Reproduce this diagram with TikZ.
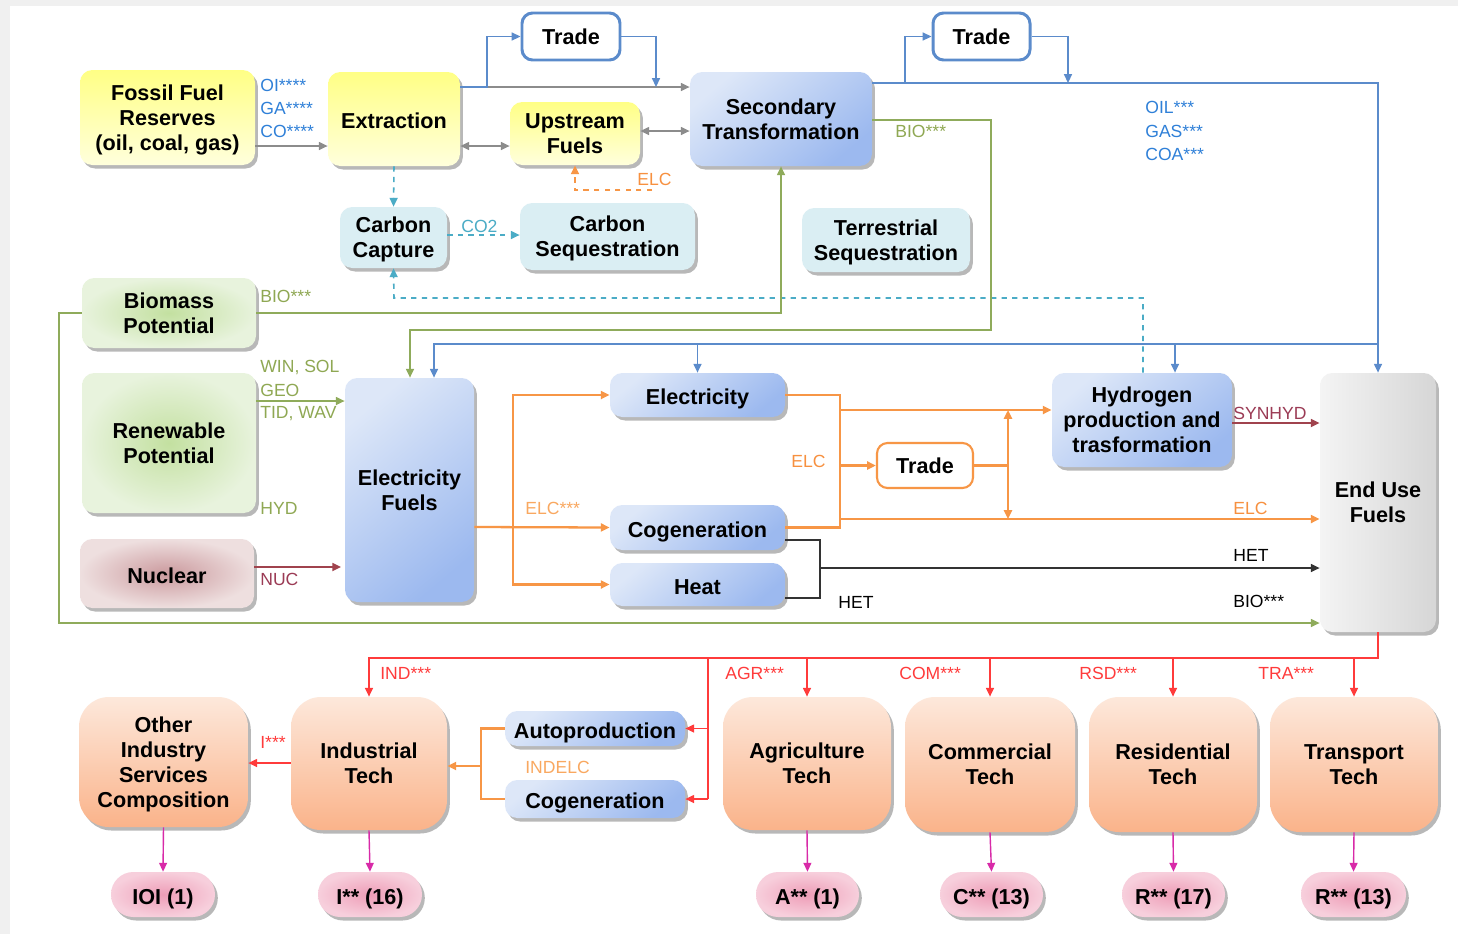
\documentclass[tikz,border=0pt]{standalone}
\usepackage{fontspec}
\setmainfont{Liberation Sans}
\usepackage{tikz}
\usetikzlibrary{arrows.meta}
\usetikzlibrary{shadows}

\definecolor{bgc}{HTML}{F0F0F0}
\definecolor{yel1}{HTML}{FFFF85}
\definecolor{yel2}{HTML}{FFFFDC}
\definecolor{blu1}{HTML}{DDE7F8}
\definecolor{blu2}{HTML}{9CB9EF}
\definecolor{cbox}{HTML}{DAEEF3}
\definecolor{grn1}{HTML}{C3E0A0}
\definecolor{grn2}{HTML}{E8F3DD}
\definecolor{nuc1}{HTML}{CB9A9E}
\definecolor{nuc2}{HTML}{EEDFDF}
\definecolor{gry1}{HTML}{F4F4F4}
\definecolor{gry2}{HTML}{D6D6D6}
\definecolor{pch1}{HTML}{FDE8DB}
\definecolor{pch2}{HTML}{FAB38A}
\definecolor{pnk1}{HTML}{F7CFDC}
\definecolor{pnk2}{HTML}{EE9DB7}
\definecolor{cgray}{HTML}{8C8C8C}
\definecolor{cblue}{HTML}{5B8BCB}
\definecolor{cgreen}{HTML}{8FAB5B}
\definecolor{cnuc}{HTML}{A0434D}
\definecolor{corg}{HTML}{F79646}
\definecolor{ccyan}{HTML}{4BACC6}
\definecolor{cred}{HTML}{FF3B3B}
\definecolor{cmag}{HTML}{D82AA8}
\definecolor{tblue}{HTML}{2F80D8}
\definecolor{tgreen}{HTML}{8FA853}
\definecolor{tnuc}{HTML}{9B3B55}
\definecolor{torg}{HTML}{F7903F}
\definecolor{tlorg}{HTML}{F9A860}

\tikzset{
  wh/.style 2 args={minimum width=#1*0.02cm, minimum height=#2*0.02cm},
  box/.style={rounded corners=7pt, align=center, inner sep=0pt, text depth=0pt,
    execute at begin node={\rule{0pt}{11.2pt}},
    font=\bfseries\fontsize{12.3}{14.2}\selectfont,
    drop shadow={shadow xshift=1.6pt, shadow yshift=-2pt, fill=black, opacity=0.28}},
  yelbox/.style={box, top color=yel1, bottom color=yel2},
  bluebox/.style={box, top color=blu1, bottom color=blu2, shading angle=40},
  cyanbox/.style={box, fill=cbox},
  greenbox/.style={box, inner color=grn1, outer color=grn2},
  nucbox/.style={box, inner color=nuc1, outer color=nuc2},
  greybox/.style={box, left color=gry1, right color=gry2},
  techbox/.style={box, rounded corners=17pt, top color=pch1, bottom color=pch2},
  ovalbox/.style={box, rounded corners=12.7pt, inner color=pnk2, outer color=pnk1},
  tradebox/.style={rounded corners=6pt, align=center, inner sep=0pt, draw=cblue,
    line width=1.7pt, fill=white, font=\bfseries\fontsize{12.3}{14.2}\selectfont},
  tradeorg/.style={tradebox, draw=corg, line width=1.2pt},
  lbl/.style={anchor=west, inner sep=0pt, font=\fontsize{10}{12}\selectfont},
  grayln/.style={draw=cgray, line width=0.9pt},
  blueln/.style={draw=cblue, line width=0.9pt},
  greenln/.style={draw=cgreen, line width=0.9pt},
  nucln/.style={draw=cnuc, line width=1.1pt},
  orgln/.style={draw=corg, line width=1.3pt},
  cyanln/.style={draw=ccyan, line width=0.9pt, dashed},
  blkln/.style={draw=black!80, line width=0.9pt},
  redln/.style={draw=cred, line width=0.9pt},
  magln/.style={draw=cmag, line width=0.8pt},
}

\begin{document}
\begin{tikzpicture}[x=0.02cm,y=-0.02cm,>={Triangle[length=5pt,width=4.5pt]}]
\useasboundingbox (0,0) rectangle (1458,934);
\fill[bgc] (0,0) rectangle (1458,934);
\fill[white] (10,6) rectangle (1458,934);

%%% Draws supply side
% draws boxes
\node[yelbox, wh={175}{95}] (fossil) at (167.5,117.5) {Fossil Fuel\\Reserves\\(oil, coal, gas)};
\node[yelbox, wh={132}{94}] (ext) at (394,119) {Extraction};
\node[yelbox, wh={130}{63}] (up) at (575,133.5) {Upstream\\Fuels};
\node[bluebox, wh={182}{94}] (sec) at (781,119) {Secondary\\Transformation};
\node[tradebox, wh={98}{47}] (trA) at (571,36.5) {Trade};
\node[tradebox, wh={97}{47}] (trB) at (981.5,36.5) {Trade};
\node[cyanbox, wh={107}{61}] (cap) at (393.5,237.5) {Carbon\\Capture};
\node[cyanbox, wh={175}{67}] (seq) at (607.5,236.5) {Carbon\\Sequestration};
\node[cyanbox, wh={168}{64}] (ter) at (886,240) {Terrestrial\\Sequestration};
\node[greenbox, wh={174}{70}] (bio) at (169,313) {Biomass\\Potential};
\node[greenbox, wh={174}{140}] (ren) at (169,443) {Renewable\\Potential};
\node[nucbox, wh={174}{69}] (nuc) at (167,573.5) {Nuclear};
%%% Draws conversion
\node[bluebox, wh={129}{224}] (ef) at (409.5,490) {Electricity\\Fuels};
\node[bluebox, wh={175}{44}] (elec) at (697.5,395) {Electricity};
\node[bluebox, wh={175}{45}] (cogen) at (697.5,527.5) {Cogeneration};
\node[bluebox, wh={175}{43}] (heat) at (697.5,584.5) {Heat};
\node[tradeorg, wh={96}{45}] (trC) at (925,465.5) {Trade};
\node[bluebox, wh={180}{94}] (hyd) at (1142,420) {Hydrogen\\production and\\trasformation};
\node[greybox, wh={116}{259}] (enduse) at (1378,502.5) {End Use\\Fuels};
%%% Draws demand side
\node[techbox, wh={169}{130}] (other) at (163.5,762) {Other\\Industry\\Services\\Composition};
\node[techbox, wh={156}{133}] (ind) at (369,763.5) {Industrial\\Tech};
\node[bluebox, wh={180}{35}] (auto) at (595,728.5) {Autoproduction};
\node[bluebox, wh={180}{38}] (cogen2) at (595,799) {Cogeneration};
\node[techbox, wh={168}{133}] (agr) at (807,763.5) {Agriculture\\Tech};
\node[techbox, wh={170}{135}] (com) at (990,764.5) {Commercial\\Tech};
\node[techbox, wh={168}{135}] (rsd) at (1173,764.5) {Residential\\Tech};
\node[techbox, wh={168}{135}] (tra) at (1354,764.5) {Transport\\Tech};
\node[ovalbox, wh={104}{45}] (o1) at (163,894.5) {IOI (1)};
\node[ovalbox, wh={104}{45}] (o2) at (370,894.5) {I** (16)};
\node[ovalbox, wh={103}{45}] (o3) at (807.5,894.5) {A** (1)};
\node[ovalbox, wh={103}{45}] (o4) at (991.5,894.5) {C** (13)};
\node[ovalbox, wh={103}{45}] (o5) at (1173.5,894.5) {R** (17)};
\node[ovalbox, wh={105}{45}] (o6) at (1353.5,894.5) {R** (13)};

% bend points and levels
\coordinate (bA) at (487,87);
\coordinate (bB) at (656,87);
\coordinate (bC) at (905,83);
\coordinate (bD) at (1068,83);
\coordinate (bE) at (1378,344);
\coordinate (lvA) at (0,146);
\coordinate (lvB) at (0,131);
\coordinate (lvC) at (0,120);
\coordinate (lvD) at (0,235);
\coordinate (lvE) at (0,401);
\coordinate (lvF) at (0,567);
\coordinate (lvG) at (0,423);
\coordinate (lvH) at (0,540);
\coordinate (lvI) at (0,598);
\coordinate (lvJ) at (0,658);
\coordinate (lvK) at (0,763);
\coordinate (xA) at (434,0);
\coordinate (xB) at (410,0);
\coordinate (xC) at (1175,0);
\coordinate (xD) at (1143,0);
\coordinate (gA) at (991,330);
\coordinate (gB) at (59,623);
\coordinate (eA) at (652,190);
\coordinate (cA) at (394,298);
\coordinate (oA) at (513,527);
\coordinate (oB) at (840,410);
\coordinate (oC) at (840,519);
\coordinate (oD) at (1008,410);
\coordinate (oE) at (1008,519);
\coordinate (kA) at (820,568);
\coordinate (rA) at (708,658);
\coordinate (oF) at (481,766);

% draws arrows (top)
\draw[grayln,->] (fossil.east |- lvA) -- (ext.west |- lvA);
\draw[grayln,->] (ext.east |- bA) -- (sec.west |- bA);
\draw[blueln,->] (ext.east |- bA) -- (bA) |- (trA.west);
\draw[blueln,->] (trA.east) -| (bB);
\draw[grayln,<->] (ext.east |- lvA) -- (up.west |- lvA);
\draw[grayln,<->] (up.east |- lvB) -- (sec.west |- lvB);
\draw[orgln,line width=1pt,dashed,->] (eA) -| (up.south);
\draw[cyanln,->] (ext.south) -- (cap.north);
\draw[cyanln,->] (cap.east |- lvD) -- (seq.west |- lvD);
\draw[cyanln,->] (xD |- hyd.north) |- (cA) -- (cap.south);
\draw[blueln,->] (sec.east |- bC) -| (enduse.north);
\draw[blueln,->] (bC) |- (trB.west);
\draw[blueln,->] (trB.east) -| (bD);
\draw[blueln,->] (bE) -| (xA |- ef.north);
\draw[blueln,->] (elec.north |- bE) -- (elec.north);
\draw[blueln,->] (xC |- bE) -- (xC |- hyd.north);
\draw[greenln,->] (sec.east |- lvC) -| (gA) -| (xB |- ef.north);
\draw[greenln,->] (bio.east) -| (sec.south);
\draw[greenln,->] (bio.west) -| (gB) -- (enduse.west |- gB);
\draw[greenln,->] (ren.east |- lvE) -- (ef.west |- lvE);
\draw[nucln,->] (nuc.east |- lvF) -- ([xshift=-2pt]ef.west |- lvF);
% draws arrows (middle)
\draw[orgln,->] (ef.east |- oA) -- (cogen.west);
\draw[orgln,->] (oA) |- (elec.west);
\draw[orgln,->] (oA) |- (heat.west);
\draw[orgln] (elec.east) -| (oC) |- (cogen.east);
\draw[orgln,->] (oB) -- (hyd.west |- oB);
\draw[orgln,->] (oB |- trC.west) -- (trC.west);
\draw[orgln,->] (oC) -- (enduse.west |- oC);
\draw[orgln] (trC.east) -- (oD |- trC.east);
\draw[orgln,<->] (oD) -- (oE);
\draw[nucln,->] (hyd.east |- lvG) -- (enduse.west |- lvG);
\draw[blkln] (cogen.east |- lvH) -| (kA |- lvI) -- (heat.east |- lvI);
\draw[blkln,->] (kA) -- (enduse.west |- kA);
% draws arrows (bottom)
\draw[redln,->] (enduse.south) |- (ind.north |- lvJ) -- (ind.north);
\foreach \t in {agr,com,rsd,tra}
  \draw[redln,->] (\t.north |- lvJ) -- (\t.north);
\draw[redln] (rA) -- (rA |- cogen2.east);
\draw[redln,->] (rA |- auto.east) -- (auto.east);
\draw[redln,->] (rA |- cogen2.east) -- (cogen2.east);
\draw[orgln] (auto.west) -| (oF |- cogen2.west) -- (cogen2.west);
\draw[orgln,->] (oF) -- (ind.east |- oF);
\draw[redln,->] (ind.west |- lvK) -- (other.east |- lvK);
\foreach \a/\b in {other/o1,ind/o2,agr/o3,com/o4,rsd/o5,tra/o6}
  \draw[magln,->] (\a.south) -- (\b.north);

% labels arrows
\node[lbl, text=tblue] (t1) at (260,85) {OI****};
\node[lbl, text=tblue] (t2) at (260,108) {GA****};
\node[lbl, text=tblue] (t3) at (260,131) {CO****};
\node[lbl, text=torg] (t4) at (637,179) {ELC};
\node[lbl, text=ccyan] (t5) at (461,226) {CO2};
\node[lbl, text=tgreen] (t6) at (895,131) {BIO***};
\node[lbl, text=tblue] (t7) at (1145,107) {OIL***};
\node[lbl, text=tblue] (t8) at (1145,131) {GAS***};
\node[lbl, text=tblue] (t9) at (1145,154) {COA***};
\node[lbl, text=tgreen] (t10) at (260,296) {BIO***};
\node[lbl, text=tgreen] (t11) at (260,367) {WIN, SOL};
\node[lbl, text=tgreen] (t12) at (260,390) {GEO};
\node[lbl, text=tgreen] (t13) at (260,414) {TID, WAV};
\node[lbl, text=tgreen] (t14) at (260,508) {HYD};
\node[lbl, text=tnuc] (t15) at (260,579) {NUC};
\node[lbl, text=tlorg] (t16) at (525,508) {ELC***};
\node[lbl, text=torg] (t17) at (791,461) {ELC};
\node[lbl, text=torg] (t18) at (1233,508) {ELC};
\node[lbl, text=tnuc] (t19) at (1233,413) {SYNHYD};
\node[lbl] (t20) at (1233,555) {HET};
\node[lbl] (t21) at (838,602) {HET};
\node[lbl] (t22) at (1233,601) {BIO***};
\node[lbl, text=cred] (t23) at (380,673) {IND***};
\node[lbl, text=cred] (t24) at (725,673) {AGR***};
\node[lbl, text=cred] (t25) at (899,673) {COM***};
\node[lbl, text=cred] (t26) at (1079,673) {RSD***};
\node[lbl, text=cred] (t27) at (1258,673) {TRA***};
\node[lbl, text=tlorg] (t28) at (525,767) {INDELC};
\node[lbl, text=cred] (t29) at (260,742) {I***};
\end{tikzpicture}
\end{document}
